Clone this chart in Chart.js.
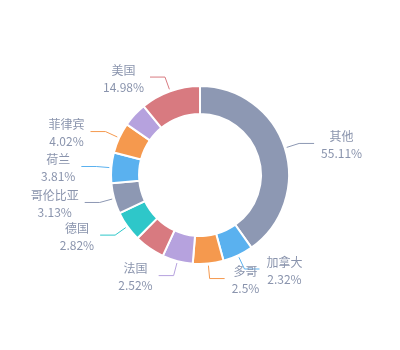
<!DOCTYPE html>
<html>
<head>
<meta charset="utf-8">
<script src="https://cdn.jsdelivr.net/npm/chart.js@4"></script>
<style>
  html, body { margin: 0; background: #fff; }
</style>
</head>
<body>
<canvas id="c" width="400" height="350"></canvas>
<script>
// two slices have no label in the original, their shares are estimated from arc size
const names = ['其他', '加拿大', '多哥', '法国', '', '德国', '哥伦比亚', '荷兰', '菲律宾', '', '美国'];
const percents = [55.11, 2.32, 2.5, 2.52, 2.7, 2.82, 3.13, 3.81, 4.02, 6.09, 14.98];
const palette = ['#8d98b3', '#5ab1ef', '#f5994e', '#b6a2de', '#d87a80', '#2ec7c9'];
const colors = percents.map((_, i) => palette[i % palette.length]);

const MIN_ANGLE = 20;
const TEXT = '#8a94ad';
const FONT = '12px "Noto Sans CJK SC", "Noto Sans", sans-serif';

// small slices are held at MIN_ANGLE degrees, the big ones share what is left
function toAngles(vals) {
  const sum = vals.reduce((a, b) => a + b, 0);
  let rest = 360, big = 0;
  const small = vals.map(v => v / sum * 360 < MIN_ANGLE);
  vals.forEach((v, i) => { if (small[i]) rest -= MIN_ANGLE; else big += v; });
  return vals.map((v, i) => small[i] ? MIN_ANGLE : v / big * rest);
}

const outLabels = {
  id: 'outLabels',
  afterDatasetsDraw(chart) {
    const ctx = chart.ctx;
    chart.getDatasetMeta(0).data.forEach((arc, i) => {
      if (!names[i]) return;
      const p = arc.getProps(['x', 'y', 'startAngle', 'endAngle', 'outerRadius'], true);
      const mid = (p.startAngle + p.endAngle) / 2;
      const dx = Math.cos(mid), dy = Math.sin(mid);
      const r1 = p.outerRadius + 2, r2 = r1 + 13;
      const x1 = p.x + dx * r1, y1 = p.y + dy * r1;
      const x2 = p.x + dx * r2, y2 = p.y + dy * r2;
      const side = dx < 0 ? -1 : 1;
      const x3 = x2 + side * 15;

      ctx.save();
      ctx.strokeStyle = colors[i];
      ctx.lineWidth = 1;
      ctx.beginPath();
      ctx.moveTo(x1, y1);
      ctx.lineTo(x2, y2);
      ctx.lineTo(x3, y2);
      ctx.stroke();

      const lines = [names[i], percents[i] + '%'];
      ctx.font = FONT;
      const w = Math.max(...lines.map(t => ctx.measureText(t).width));
      const tx = side < 0 ? x3 - 6 - w / 2 : x3 + 7 + w / 2;
      ctx.fillStyle = TEXT;
      ctx.textAlign = 'center';
      ctx.textBaseline = 'middle';
      ctx.fillText(lines[0], tx, y2 + 1.5 - 8.5);
      ctx.fillText(lines[1], tx, y2 + 1.5 + 8.5);
      ctx.restore();
    });
  }
};

new Chart(document.getElementById('c'), {
  type: 'doughnut',
  data: {
    labels: names,
    datasets: [{
      data: toAngles(percents),
      backgroundColor: colors,
      borderColor: '#fff',
      borderWidth: 2,
      hoverOffset: 0,
      radius: 89,
      cutout: '68.5%'
    }]
  },
  options: {
    responsive: false,
    animation: false,
    layout: { padding: 0 },
    plugins: { legend: { display: false }, tooltip: { enabled: false } }
  },
  plugins: [outLabels]
});
</script>
</body>
</html>
